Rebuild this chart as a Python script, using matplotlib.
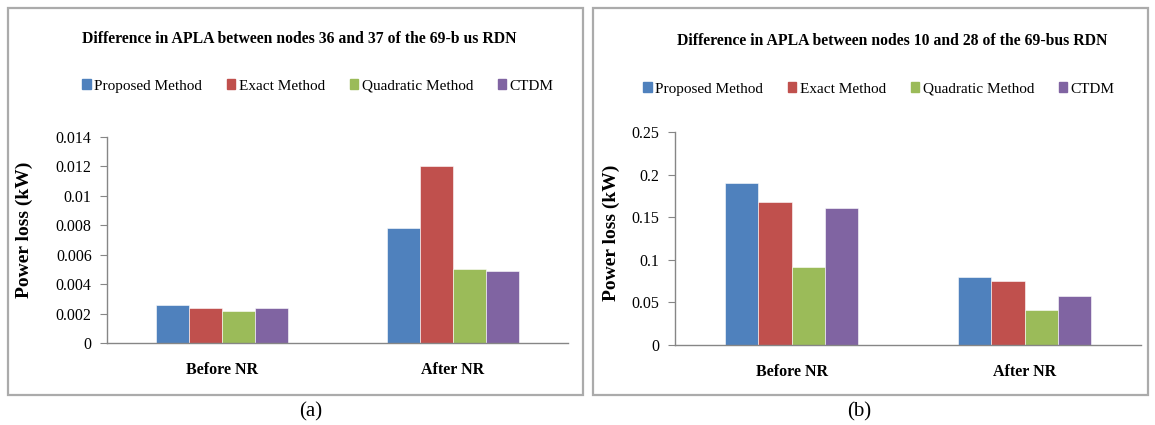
import numpy as np
import matplotlib
matplotlib.use("Agg")
import matplotlib.pyplot as plt
import matplotlib.patches as mpatches

# ── Data ──────────────────────────────────────────────────────────────────────
categories = ["Before NR", "After NR"]
series     = ["Proposed Method", "Exact Method", "Quadratic Method", "CTDM"]
colors     = ["#4F81BD", "#C0504D", "#9BBB59", "#8064A2"]

# (a) nodes 36 and 37
vals_a = {
    "Proposed Method":  [0.0026, 0.0078],
    "Exact Method":     [0.0024, 0.0120],
    "Quadratic Method": [0.0022, 0.0050],
    "CTDM":             [0.0024, 0.0049],
}
yticks_a = [0, 0.002, 0.004, 0.006, 0.008, 0.01, 0.012, 0.014]
ylabels_a = ["0", "0.002", "0.004", "0.006", "0.008", "0.01", "0.012", "0.014"]

# (b) nodes 10 and 28
vals_b = {
    "Proposed Method":  [0.190, 0.080],
    "Exact Method":     [0.168, 0.075],
    "Quadratic Method": [0.091, 0.041],
    "CTDM":             [0.161, 0.058],
}
yticks_b = [0, 0.05, 0.1, 0.15, 0.2, 0.25]
ylabels_b = ["0", "0.05", "0.1", "0.15", "0.2", "0.25"]

title_a = "Difference in APLA between nodes 36 and 37 of the 69-b us RDN"
title_b = "Difference in APLA between nodes 10 and 28 of the 69-bus RDN"

# ── Figure ────────────────────────────────────────────────────────────────────
W, H = 1155, 425
fig = plt.figure(figsize=(W / 100, H / 100), dpi=100)
plt.rcParams["font.family"] = ["Liberation Serif", "DejaVu Serif"]

def fx(px):
    return px / W

def fy(py):
    return 1 - py / H

# panel frames
for x0, x1 in [(8, 583), (593, 1148)]:
    fig.patches.append(mpatches.Rectangle(
        (fx(x0), fy(395)), fx(x1 - x0), (395 - 8) / H,
        transform=fig.transFigure, fill=False, edgecolor="#ABABAB", linewidth=1.6))

spine_col = "#868686"
bar_w = 0.143

def draw_panel(rect, vals, yticks, ylabels, title, title_xy, leg_xy, ylab_xy, cap, cap_xy):
    ax = fig.add_axes(rect)
    x = np.arange(len(categories))
    for i, (name, col) in enumerate(zip(series, colors)):
        ax.bar(x + (i - 1.5) * bar_w, vals[name], width=bar_w, color=col,
               edgecolor="white", linewidth=0.4, label=name)
    ax.set_xlim(-0.5, 1.5)
    ax.set_ylim(0, yticks[-1])
    ax.set_yticks(yticks)
    ax.set_yticklabels(ylabels, fontsize=11.5)
    ax.set_xticks(x)
    ax.set_xticklabels(categories, fontsize=11.5, fontweight="bold")
    ax.tick_params(axis="x", length=0, pad=14)
    ax.tick_params(axis="y", length=5, width=0.8, color=spine_col, direction="out", pad=6)
    for s in ["top", "right"]:
        ax.spines[s].set_visible(False)
    for s in ["left", "bottom"]:
        ax.spines[s].set_color(spine_col)
        ax.spines[s].set_linewidth(1.0)

    fig.text(fx(title_xy[0]), fy(title_xy[1]), title, ha="center", va="center",
             fontsize=11.3, fontweight="bold")
    handles = [mpatches.Patch(color=c, label=n) for n, c in zip(series, colors)]
    fig.legend(handles=handles, loc="center", bbox_to_anchor=(fx(leg_xy[0]), fy(leg_xy[1])),
               ncol=4, frameon=False, fontsize=11, handlelength=0.55, handleheight=0.55,
               handletextpad=0.25, columnspacing=1.6)
    fig.text(fx(ylab_xy[0]), fy(ylab_xy[1]), "Power loss (kW)", rotation=90,
             ha="center", va="center", fontsize=14, fontweight="bold")
    fig.text(fx(cap_xy[0]), fy(cap_xy[1]), cap, ha="center", va="center", fontsize=15)
    return ax

draw_panel([fx(107), fy(343), fx(568 - 107), (343 - 137) / H],
           vals_a, yticks_a, ylabels_a, title_a,
           (299, 39), (318, 86), (24, 230), "(a)", (311, 412))
draw_panel([fx(675), fy(345), fx(1141 - 675), (345 - 132) / H],
           vals_b, yticks_b, ylabels_b, title_b,
           (892, 41), (879, 89), (611, 233), "(b)", (859, 412))

fig.savefig("out.png", dpi=100)
